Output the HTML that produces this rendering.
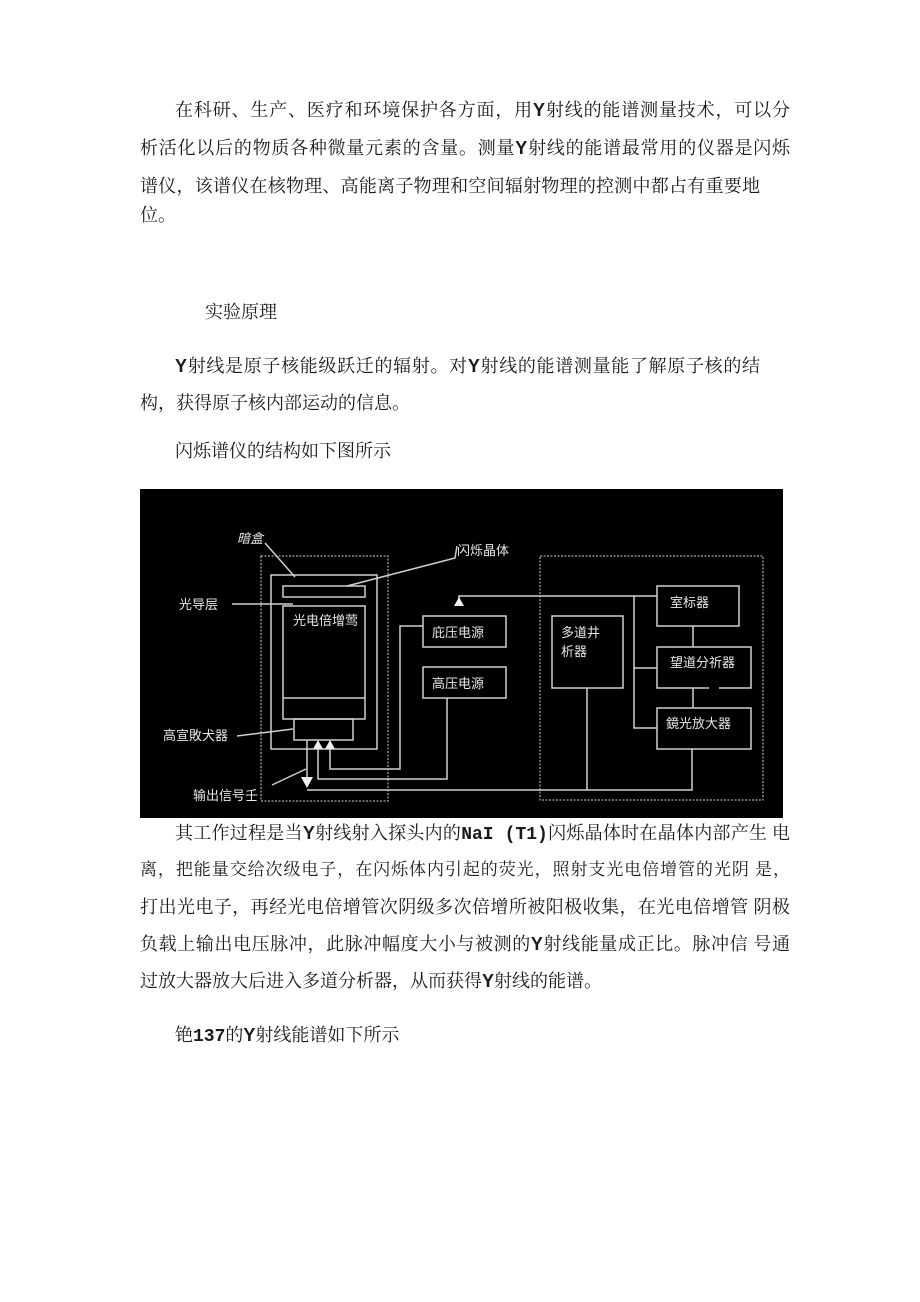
<!DOCTYPE html>
<html><head><meta charset="utf-8"><style>
html,body{margin:0;padding:0;background:#fff;}
body{width:920px;height:1302px;position:relative;overflow:hidden;font-family:"Liberation Serif","Noto Serif CJK SC",serif;color:#1a1a1a;}
.l{position:absolute;font-size:18px;line-height:24px;white-space:nowrap;}
.j{text-align:justify;text-align-last:justify;white-space:normal;height:24px;overflow:hidden;}
.y{font-family:"Liberation Sans",sans-serif;font-weight:bold;}
svg text{font-family:"Liberation Sans","Noto Sans CJK SC",sans-serif;fill:#e6e6e6;font-size:13px;}
</style></head><body>
<div class="l j" style="left:175px;top:98px;width:615px">在科研、生产、医疗和环境保护各方面，用<span class="y">Y</span>射线的能谱测量技术，可以分</div>
<div class="l j" style="left:140px;top:136px;width:650px">析活化以后的物质各种微量元素的含量。测量<span class="y">Y</span>射线的能谱最常用的仪器是闪烁</div>
<div class="l j" style="left:140px;top:174px;width:620px">谱仪，该谱仪在核物理、高能离子物理和空间辐射物理的控测中都占有重要地</div>
<div class="l" style="left:140px;top:203px">位。</div>
<div class="l" style="left:205px;top:300px">实验原理</div>
<div class="l j" style="left:175px;top:354px;width:585px"><span class="y">Y</span>射线是原子核能级跃迁的辐射。对<span class="y">Y</span>射线的能谱测量能了解原子核的结</div>
<div class="l" style="left:140px;top:391px">构，获得原子核内部运动的信息。</div>
<div class="l" style="left:175px;top:439px">闪烁谱仪的结构如下图所示</div>

<svg style="position:absolute;left:140px;top:489px" width="643" height="329" viewBox="140 489 643 329">
<rect x="140" y="489" width="643" height="329" fill="#000"/>
<g fill="none" stroke="#cfcfcf" stroke-width="1.5">
<rect x="261" y="556" width="127" height="245" stroke-dasharray="2,1.5" stroke-width="1"/>
<rect x="540" y="556" width="223" height="244" stroke-dasharray="2,1.5" stroke-width="1"/>
<rect x="271" y="575" width="106" height="174"/>
<rect x="283" y="586" width="82" height="11"/>
<rect x="283" y="606" width="82" height="113"/>
<line x1="283" y1="698" x2="365" y2="698"/>
<rect x="294" y="719" width="59" height="21"/>
<line x1="232" y1="604" x2="293" y2="604"/>
<line x1="237" y1="736" x2="293" y2="729"/>
<line x1="272" y1="785" x2="306" y2="769"/>
<polyline points="265,543 295,577"/>
<polyline points="347,586 455,558 457,546"/>
<rect x="423" y="616" width="83" height="31"/>
<rect x="423" y="667" width="83" height="31"/>
<rect x="552" y="616" width="71" height="72"/>
<rect x="657" y="586" width="82" height="40"/>
<path d="M709,688 H657 V647 H751 V688 H719"/>
<rect x="657" y="708" width="94" height="41"/>
<line x1="693" y1="626" x2="693" y2="647"/>
<line x1="693" y1="688" x2="693" y2="708"/>
<polyline points="634,596 634,728 657,728"/>
<line x1="634" y1="668" x2="657" y2="668"/>
<polyline points="459,606 459,596 657,596"/>
<polyline points="307,740 307,777"/>
<polyline points="307,790 692,790 692,749"/>
<line x1="587" y1="688" x2="587" y2="790"/>
<polyline points="318,748 318,779 447,779 447,698"/>
<polyline points="330,748 330,769 400,769 400,626 423,626"/>
</g>
<g fill="#eee">
<polygon points="301,777 313,777 307,788"/>
<polygon points="313,749 323,749 318,740"/>
<polygon points="325,749 335,749 330,740"/>
<polygon points="454,606 464,606 459,597"/>
</g>
<text x="237" y="543" font-style="italic" font-size="15">暗盒</text>
<text x="457" y="555">闪烁晶体</text>
<text x="179" y="609">光导层</text>
<text x="293" y="625" font-size="11">光电倍增莺</text>
<text x="163" y="740">高宣敗犬器</text>
<text x="193" y="800">输出信号壬</text>
<text x="432" y="637">庇压电源</text>
<text x="432" y="688">高压电源</text>
<text x="561" y="637">多道井</text>
<text x="561" y="656">析器</text>
<text x="670" y="607">室标器</text>
<text x="670" y="667">望道分祈器</text>
<text x="666" y="728">鏡光放大器</text>
</svg>

<div class="l j" style="left:175px;top:821px;width:615px">其工作过程是当<span class="y">Y</span>射线射入探头内的<span style="font-family:'Liberation Mono',monospace;font-weight:bold">NaI (T1)</span>闪烁晶体时在晶体内部产生 电</div>
<div class="l j" style="left:140px;top:858px;width:650px;font-size:17px">离，把能量交给次级电子，在闪烁体内引起的荧光，照射支光电倍增管的光阴 是，</div>
<div class="l j" style="left:140px;top:895px;width:650px">打出光电子，再经光电倍增管次阴级多次倍增所被阳极收集，在光电倍增管 阴极</div>
<div class="l j" style="left:140px;top:932px;width:650px">负载上输出电压脉冲，此脉冲幅度大小与被测的<span class="y">Y</span>射线能量成正比。脉冲信 号通</div>
<div class="l" style="left:140px;top:969px">过放大器放大后进入多道分析器，从而获得<span class="y">Y</span>射线的能谱。</div>
<div class="l" style="left:175px;top:1023px">铯<span style="font-family:'Liberation Mono',monospace;font-weight:bold">137</span>的<span class="y">Y</span>射线能谱如下所示</div>
</body></html>
